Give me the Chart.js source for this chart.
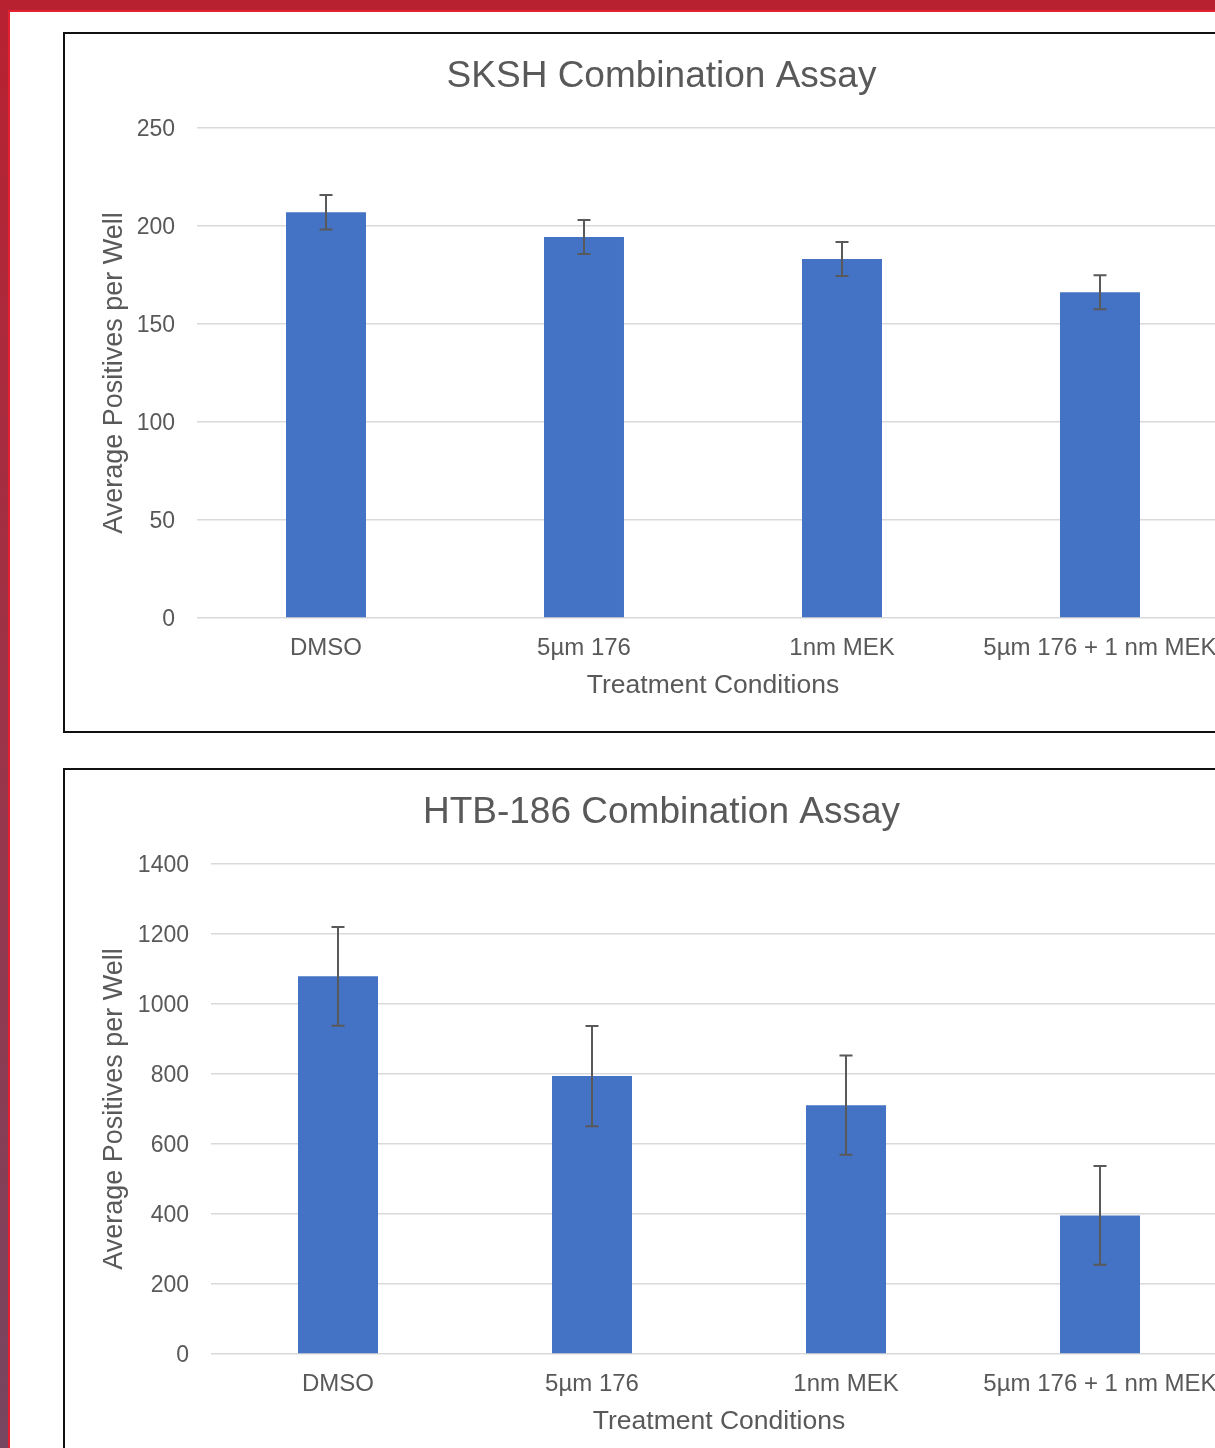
<!DOCTYPE html>
<html>
<head>
<meta charset="utf-8">
<script src="https://cdn.jsdelivr.net/npm/chart.js@4/dist/chart.umd.min.js"></script>
<style>
  html, body { margin:0; padding:0; background:#fff; width:1215px; height:1448px; overflow:hidden; position:relative; }
  .bandTop { position:absolute; left:0; top:0; width:1215px; height:10px; background:#B82130; }
  .bandLeft { position:absolute; left:0; top:0; width:8px; height:1448px; background:linear-gradient(#B82130, #9C3449 50%, #764660); }
  .lineTop { position:absolute; left:8px; top:10px; width:1207px; height:2px; background:#E4222F; }
  .lineLeft { position:absolute; left:8px; top:10px; width:2px; height:1438px; background:#E4222F; }
  .box { position:absolute; left:63px; width:1300px; border:2px solid #111; background:#fff; }
  .box canvas { position:absolute; left:0; top:0; }
</style>
</head>
<body>
<div class="bandTop"></div>
<div class="bandLeft"></div>
<div class="lineTop"></div>
<div class="lineLeft"></div>
<div class="box" style="top:32px;height:697px;"><canvas id="c1" width="1193" height="697" style="width:1193px;height:697px;"></canvas></div>
<div class="box" style="top:768px;height:720px;"><canvas id="c2" width="1193" height="697" style="width:1193px;height:697px;"></canvas></div>
<script>
const categories = ['DMSO', '5\u00B5m 176', '1nm MEK', '5\u00B5m 176 + 1 nm MEK'];
const skshValues = [207, 194.4, 183.2, 166.2];
const skshErrors = [8.8, 8.7, 8.7, 8.7];
const htbValues = [1079, 794, 711, 396];
const htbErrors = [141, 143, 142, 141];
const skshTitle = 'SKSH Combination Assay';
const htbTitle = 'HTB-186 Combination Assay';
const xTitle = 'Treatment Conditions';
const yTitle = 'Average Positives per Well';

const FONT = '"Liberation Sans", Arial, sans-serif';
const TEXT = '#595959';

const errorBarPlugin = {
  id: 'errorBars',
  afterDatasetsDraw(chart) {
    const ctx = chart.ctx;
    const ys = chart.scales.y;
    chart.data.datasets.forEach((ds, di) => {
      const meta = chart.getDatasetMeta(di);
      const errs = ds.errors || [];
      meta.data.forEach((bar, i) => {
        const v = ds.data[i], e = errs[i];
        if (e == null) return;
        const x = bar.x;
        const yt = ys.getPixelForValue(v + e);
        const yb = ys.getPixelForValue(v - e);
        ctx.save();
        ctx.strokeStyle = '#595959';
        ctx.lineWidth = 2;
        ctx.beginPath();
        ctx.moveTo(x, yt); ctx.lineTo(x, yb);
        ctx.moveTo(x - 6.5, yt); ctx.lineTo(x + 6.5, yt);
        ctx.moveTo(x - 6.5, yb); ctx.lineTo(x + 6.5, yb);
        ctx.stroke();
        ctx.restore();
      });
    });
  }
};

function makeChart(id, title, values, errors, yMax, yStep, sidePad, barPct) {
  const yAxisWidth = (id === 'c1' ? 132 : 146) - sidePad;
  return new Chart(document.getElementById(id), {
    type: 'bar',
    data: {
      labels: categories,
      datasets: [{
        data: values,
        errors: errors,
        backgroundColor: '#4472C4',
        borderWidth: 0,
        categoryPercentage: 1,
        barPercentage: barPct
      }]
    },
    options: {
      responsive: false,
      animation: false,
      devicePixelRatio: 1,
      layout: { padding: { left: sidePad, right: sidePad, top: 0, bottom: 0 } },
      plugins: {
        legend: { display: false },
        tooltip: { enabled: false },
        title: {
          display: true,
          text: title,
          color: TEXT,
          font: { family: FONT, size: 37, weight: 'normal', lineHeight: 1.2 },
          padding: { top: 21, bottom: 28.6 }
        }
      },
      scales: {
        x: {
          grid: { display: false, drawTicks: false },
          border: { display: false },
          ticks: { color: TEXT, font: { family: FONT, size: 24 }, padding: 16, maxRotation: 0, autoSkip: false },
          title: { display: true, text: xTitle, color: TEXT, font: { family: FONT, size: 26.5, lineHeight: 1.2 }, padding: { top: 0, bottom: 29 } },
          afterFit(s) { s.height = 113; }
        },
        y: {
          min: 0, max: yMax,
          grid: { color: '#D9D9D9', lineWidth: 1.5, drawTicks: false },
          border: { display: false },
          ticks: { stepSize: yStep, color: TEXT, font: { family: FONT, size: 23 }, padding: 22, labelOffset: 2,
                   callback: (v) => String(v) },
          title: { display: true, text: yTitle, color: TEXT, font: { family: FONT, size: 27, lineHeight: 1.2 }, padding: { top: 50 - sidePad - 16.2, bottom: 0 } },
          afterFit(s) { s.width = yAxisWidth; }
        }
      }
    },
    plugins: [errorBarPlugin]
  });
}

makeChart('c1', skshTitle, skshValues, skshErrors, 250, 50, 29, 0.31);
makeChart('c2', htbTitle, htbValues, htbErrors, 1400, 200, 31, 0.315);
</script>
</body>
</html>
